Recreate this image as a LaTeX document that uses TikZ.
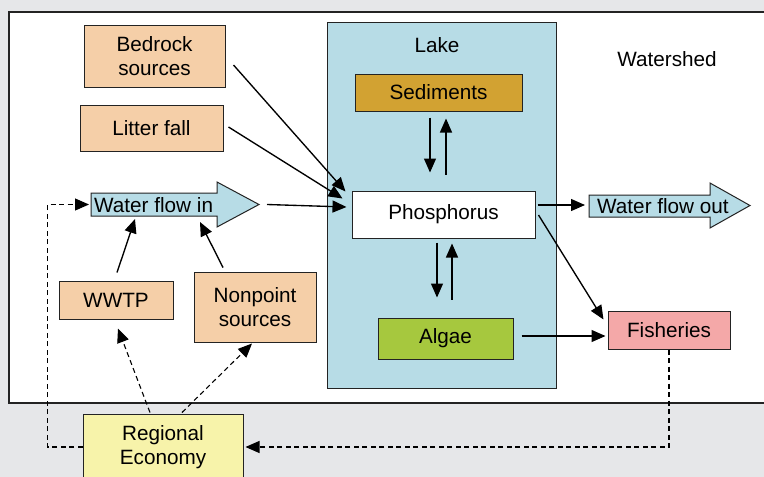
\documentclass[tikz,border=0pt]{standalone}
\usepackage{fontspec}
\setmainfont{Liberation Sans}
\usetikzlibrary{arrows.meta}

\definecolor{bggray}{RGB}{230,231,233}
\definecolor{lakeblue}{RGB}{183,220,230}
\definecolor{sedgold}{RGB}{210,162,50}
\definecolor{algaegreen}{RGB}{166,200,62}
\definecolor{peach}{RGB}{245,207,168}
\definecolor{econyellow}{RGB}{247,243,170}
\definecolor{fishpink}{RGB}{244,168,168}
\definecolor{edge}{RGB}{35,35,35}

\tikzset{
  lbl/.style={font=\fontsize{20.7}{24.5}\selectfont, inner sep=0pt, align=center},
  box/.style={lbl, draw=edge, line width=1pt},
  flowshape/.style={draw=edge, line width=1pt, fill=lakeblue},
  arr/.style={line width=1.35pt, -{Triangle[length=14pt,width=12pt]}},
  darr/.style={arr, line width=1.1pt, dash pattern=on 5pt off 3.5pt},
}

\begin{document}
\begin{tikzpicture}[x=1pt,y=-1pt]
\useasboundingbox (0,0) rectangle (764,477);
\clip (0,0) rectangle (764,477);
\fill[bggray] (0,0) rectangle (764,477);

% watershed area and lake
\draw[fill=white, line width=1.2pt, draw=edge] (9,12) rectangle (775,403);
\node[lbl] (shed) at (667,59) {Watershed};
\node[box, fill=lakeblue, minimum width=229pt, minimum height=366pt] (lake) at (441.5,205) {};
\node[lbl] (lakelbl) at (437,45) {Lake};

% lake compartments
\node[box, fill=sedgold, minimum width=167pt, minimum height=37pt] (sed) at (438.5,92.5) {Sediments};
\node[box, fill=white, minimum width=183pt, minimum height=47pt] (phos) at (443.5,214.5) {Phosphorus};
\node[box, fill=algaegreen, minimum width=135pt, minimum height=41pt] (alg) at (445.5,338.5) {Algae};

% external sources
\node[box, fill=peach, minimum width=141pt, minimum height=62pt] (bed) at (154.5,56) {Bedrock\\sources};
\node[box, fill=peach, minimum width=143pt, minimum height=46pt] (lit) at (151.5,128) {Litter fall};
\node[box, fill=peach, minimum width=114pt, minimum height=38pt] (wwtp) at (116,300) {WWTP};
\node[box, fill=peach, minimum width=122pt, minimum height=70pt] (np) at (255,307) {Nonpoint\\sources};
\node[box, fill=fishpink, minimum width=122pt, minimum height=38pt] (fish) at (669,330) {Fisheries};
\node[box, fill=econyellow, minimum width=160pt, minimum height=66pt] (re) at (163,447) {Regional\\Economy};

% water flow arrows
\draw[flowshape] (91,193) -- (217,193) -- (217,182) -- (259,204.5) -- (217,227) -- (217,216) -- (91,216) -- cycle;
\coordinate (wintail) at (91,204.5);
\coordinate (wintip) at (259,204.5);
\node[lbl, anchor=west] (win) at (94,205) {Water flow in};

\draw[flowshape] (589,195) -- (710,195) -- (710,183) -- (750,205.5) -- (710,228) -- (710,217) -- (589,217) -- cycle;
\coordinate (wouttail) at (589,205);
\node[lbl, anchor=west] (wout) at (597,206) {Water flow out};

% phosphorus inputs and outputs
\draw[arr] ([shift={(8,9)}]bed.east) -- ([shift={(-6,1)}]phos.north west);
\draw[arr] ([shift={(5,-1)}]lit.east) -- ([shift={(-9,8)}]phos.north west);
\draw[arr] ([xshift=8pt]wintip) -- ([shift={(-5,-7.5)}]phos.west);
\draw[arr] ([shift={(2,-9.5)}]phos.east) -- ([xshift=-4pt]wouttail);

% exchanges within the lake
\draw[arr] ([shift={(-8.5,6)}]sed.south) -- ([shift={(-13.5,-18)}]phos.north);
\draw[arr] ([shift={(2.5,-16)}]phos.north) -- ([shift={(7.5,7)}]sed.south);
\draw[arr] ([shift={(-6.5,4)}]phos.south) -- ([shift={(-8.5,-20)}]alg.north);
\draw[arr] ([shift={(6.5,-18)}]alg.north) -- ([shift={(8.5,5)}]phos.south);

% to fisheries
\draw[arr] ([shift={(3,0.5)}]phos.east) -- ([shift={(-4,9)}]fish.north west);
\draw[arr] ([shift={(8,-2.5)}]alg.east) -- ([shift={(-2,6)}]fish.west);

% point and nonpoint loads
\draw[arr] ([shift={(1,-8)}]wwtp.north) -- (135,219);
\draw[arr] ([shift={(-32,-4)}]np.north) -- (200,222);

% economic feedbacks
\draw[darr] ([shift={(-13,-1)}]re.north) -- ([shift={(2,9)}]wwtp.south);
\draw[darr] ([shift={(19,-1)}]re.north) -- ([shift={(-3,1)}]np.south);
\draw[darr] (fish.south) |- ([xshift=2pt]re.east);
\draw[darr] (re.west) -- ++(-35,0) |- ([xshift=-2pt]wintail);
\end{tikzpicture}
\end{document}
